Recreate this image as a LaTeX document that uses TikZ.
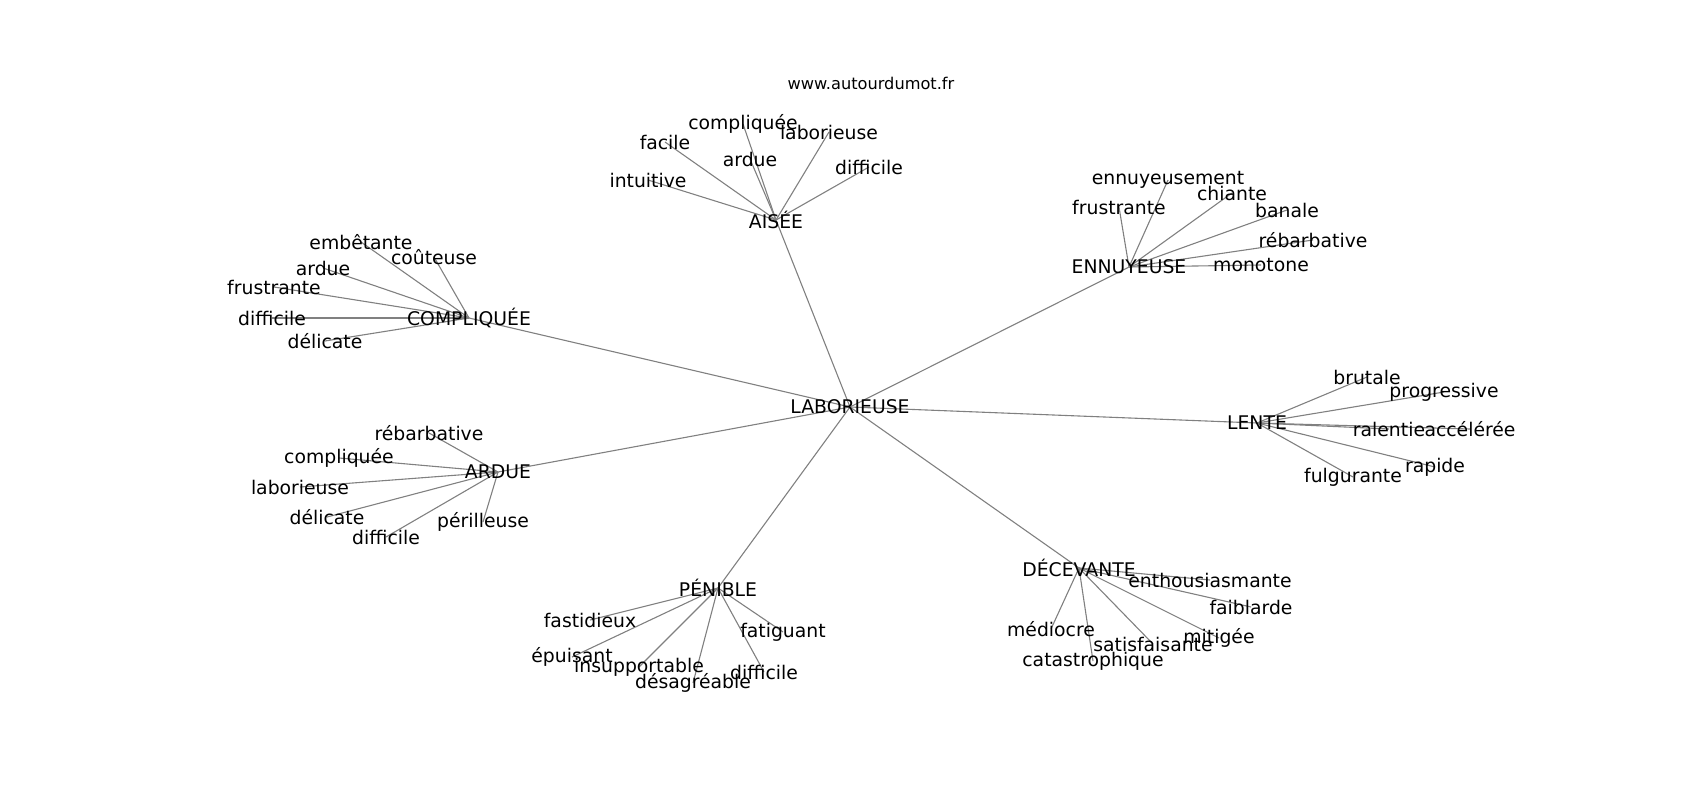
\documentclass[tikz,border=0pt]{standalone}
\usepackage{fontspec}
\setmainfont{DejaVu Sans}
\usetikzlibrary{backgrounds}

\begin{document}
\begin{tikzpicture}[x=1pt, y=-1pt, line cap=round,
        word/.style={inner sep=0pt, font=\fontsize{18.8}{22}\selectfont},
        link/.style={draw=black!50, line width=1.1pt}]
        \useasboundingbox (0, 0) rectangle (1700, 800);

        \node[font=\fontsize{16.2}{19}\selectfont] (title) at (871, 83) {www.autourdumot.fr};

        \node[word] (lab) at (850, 407) {LABORIEUSE};

        % #1 name, #2 x, #3 y, #4 text, #5 node it hangs from
        \newcommand{\wordnode}[5]{
            \node[word] (#1) at (#2, #3) {#4};
            \begin{pgfonlayer}{background}
                \draw[link] (#5.center) -- (#1.center);
            \end{pgfonlayer}
        }

        \wordnode{ais}{776}{220}{AISÉE}{lab};
        \wordnode{com}{469}{318}{COMPLIQUÉE}{lab};
        \wordnode{enn}{1129}{267}{ENNUYEUSE}{lab};
        \wordnode{len}{1257}{423}{LENTE}{lab};
        \wordnode{ard}{498}{472}{ARDUE}{lab};
        \wordnode{pen}{718}{588}{PÉNIBLE}{lab};
        \wordnode{dec}{1079}{568}{DÉCEVANTE}{lab};

        \wordnode{ais1}{648}{180}{intuitive}{ais};
        \wordnode{ais2}{665}{142}{facile}{ais};
        \wordnode{ais3}{743}{124}{compliquée}{ais};
        \wordnode{ais4}{750}{159}{ardue}{ais};
        \wordnode{ais5}{829}{132}{laborieuse}{ais};
        \wordnode{ais6}{869}{167}{difficile}{ais};

        \wordnode{com1}{361}{242}{embêtante}{com};
        \wordnode{com2}{434}{257}{coûteuse}{com};
        \wordnode{com3}{323}{268}{ardue}{com};
        \wordnode{com4}{274}{287}{frustrante}{com};
        \wordnode{com5}{272}{318}{difficile}{com};
        \wordnode{com6}{325}{341}{délicate}{com};

        \wordnode{enn1}{1168}{180}{ennuyeusement}{enn};
        \wordnode{enn2}{1119}{207}{frustrante}{enn};
        \wordnode{enn3}{1232}{193}{chiante}{enn};
        \wordnode{enn4}{1287}{210}{banale}{enn};
        \wordnode{enn5}{1313}{240}{rébarbative}{enn};
        \wordnode{enn6}{1261}{265}{monotone}{enn};

        \wordnode{len1}{1367}{377}{brutale}{len};
        \wordnode{len2}{1444}{392}{progressive}{len};
        \wordnode{len3}{1389}{429}{ralentie}{len};
        \wordnode{len4}{1470}{429}{accélérée}{len};
        \wordnode{len5}{1435}{467}{rapide}{len};
        \wordnode{len6}{1353}{477}{fulgurante}{len};

        \wordnode{ard1}{429}{433}{rébarbative}{ard};
        \wordnode{ard2}{339}{458}{compliquée}{ard};
        \wordnode{ard3}{300}{487}{laborieuse}{ard};
        \wordnode{ard4}{327}{517}{délicate}{ard};
        \wordnode{ard5}{386}{537}{difficile}{ard};
        \wordnode{ard6}{483}{522}{périlleuse}{ard};

        \wordnode{pen1}{590}{620}{fastidieux}{pen};
        \wordnode{pen2}{572}{657}{épuisant}{pen};
        \wordnode{pen3}{639}{667}{insupportable}{pen};
        \wordnode{pen4}{693}{683}{désagréable}{pen};
        \wordnode{pen5}{764}{672}{difficile}{pen};
        \wordnode{pen6}{783}{632}{fatiguant}{pen};

        \wordnode{dec1}{1210}{580}{enthousiasmante}{dec};
        \wordnode{dec2}{1251}{607}{faiblarde}{dec};
        \wordnode{dec3}{1219}{638}{mitigée}{dec};
        \wordnode{dec4}{1153}{644}{satisfaisante}{dec};
        \wordnode{dec5}{1051}{629}{médiocre}{dec};
        \wordnode{dec6}{1093}{661}{catastrophique}{dec};
    \end{tikzpicture}
\end{document}
